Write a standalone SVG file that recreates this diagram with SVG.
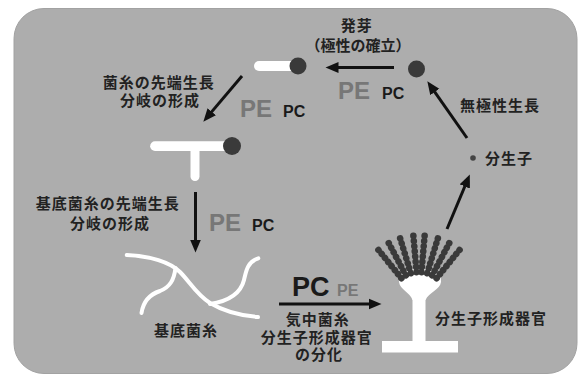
<svg xmlns="http://www.w3.org/2000/svg" xmlns:xlink="http://www.w3.org/1999/xlink" width="579" height="376" viewBox="0 0 579 376">
  <style>
    .jp { font-family: "Noto Sans CJK JP", "Noto Sans", sans-serif; font-weight: bold; font-size: 15px; fill: #222; text-anchor: middle; letter-spacing: 1px; }
    .pe { font-family: "Liberation Sans", Arial, sans-serif; font-weight: bold; fill: #777; }
    .pc { font-family: "Liberation Sans", Arial, sans-serif; font-weight: bold; fill: #1a1a1a; }
    .arrow { stroke: #111; stroke-width: 3; fill: none; marker-end: url(#head); }
    .hypha { stroke: #fff; stroke-width: 4; fill: none; stroke-linecap: round; }
    .cell { fill: #3a3a3a; }
    .spore { fill: #3a3a3a; }
  </style>
  <defs>
    <marker id="head" markerUnits="userSpaceOnUse" markerWidth="14" markerHeight="12" viewBox="0 -6 14 12" refX="0.5" refY="0" orient="auto">
      <path d="M0,-5.5 L13,0 L0,5.5 Z" fill="#111"/>
    </marker>
    <!-- one spore chain, upright above the vesicle centre (419,300) -->
    <g id="chain">
      <circle class="spore" cx="419" cy="272" r="3.3"/>
      <circle class="spore" cx="419" cy="266.8" r="3.3"/>
      <circle class="spore" cx="419" cy="261.6" r="3.3"/>
      <circle class="spore" cx="419" cy="256.4" r="3.3"/>
      <circle class="spore" cx="419" cy="251.2" r="3.3"/>
      <circle class="spore" cx="419" cy="246" r="3.3"/>
      <circle class="spore" cx="419" cy="240.8" r="3.3"/>
      <circle class="spore" cx="419" cy="235.6" r="3.3"/>
    </g>
  </defs>

  <rect x="0" y="0" width="579" height="376" fill="#fff"/>
  <rect x="14" y="8.5" width="563" height="365" rx="30" fill="#adadad" stroke="#a2a2a2" stroke-width="1"/>

  <!-- germinating spore -->
  <g id="germ-tube">
    <path d="M259,61 H298 V71 H259 A5,5 0 0 1 259,61 Z" fill="#fff"/>
    <circle class="cell" cx="298" cy="66" r="8.5"/>
  </g>

  <!-- free spore -->
  <g id="spore-polar">
    <circle class="cell" cx="416.5" cy="69" r="8.5"/>
  </g>

  <!-- branching hypha -->
  <g id="branch">
    <path d="M155,141.3 H232 V151 H155 A4.85,4.85 0 0 1 155,141.3 Z" fill="#fff"/>
    <path d="M190.5,146 H199.5 V176.5 A4.5,4.5 0 0 1 190.5,176.5 Z" fill="#fff"/>
    <circle class="cell" cx="232" cy="146" r="9"/>
  </g>

  <!-- substrate mycelium -->
  <g id="substrate-mycelium">
    <path class="hypha" d="M126.7,255 C150,256 170,262 180,272 C190,282 196,294 210,303 C225,312 245,316 258,317"/>
    <path class="hypha" d="M175.5,268 C174,280 170,287 160,291 C148,295 143,303 141.5,313"/>
    <path class="hypha" d="M258.3,258.3 C247,262 246,272 244,280 C241,292 230,301 210,304"/>
  </g>

  <!-- conidiophore -->
  <g id="conidiophore">
    <rect x="382" y="341" width="76" height="11.5" fill="#fff"/>
    <rect x="412.5" y="292" width="13" height="50" fill="#fff"/>
    <path d="M412.5,300 C410,292 400,290 399,282 C398,272 408,267 420,267 C432,267 442,272 441,282 C440,290 429,292 425.5,300 Z" fill="#fff"/>
    <use xlink:href="#chain" transform="rotate(-39 419 300)"/>
    <use xlink:href="#chain" transform="rotate(-28 419 300)"/>
    <use xlink:href="#chain" transform="rotate(-17 419 300)"/>
    <use xlink:href="#chain" transform="rotate(-5 419 300)"/>
    <use xlink:href="#chain" transform="rotate(5 419 300)"/>
    <use xlink:href="#chain" transform="rotate(17 419 300)"/>
    <use xlink:href="#chain" transform="rotate(28 419 300)"/>
    <use xlink:href="#chain" transform="rotate(39 419 300)"/>
  </g>

  <!-- single conidium -->
  <g id="conidium">
    <circle cx="473" cy="158" r="2.8" fill="#444"/>
  </g>

  <!-- life-cycle arrows -->
  <g id="connectors">
    <line class="arrow" x1="394" y1="67.5" x2="338" y2="67.5"/>
    <line class="arrow" x1="242" y1="76" x2="211.4" y2="112.1"/>
    <line class="arrow" x1="195.5" y1="192" x2="195.5" y2="240"/>
    <line class="arrow" x1="279" y1="304" x2="369" y2="304"/>
    <line class="arrow" x1="447" y1="229" x2="465" y2="186"/>
    <line class="arrow" x1="467" y1="138" x2="434.5" y2="91.6"/>
  </g>

  <!-- stage labels -->
  <g id="labels">
    <text class="jp" y="30.5">
      <tspan x="359">発芽</tspan>
      <tspan x="358" y="50.5" style="letter-spacing:0">（極性の確立）</tspan>
    </text>
    <text class="jp" y="87.5">
      <tspan x="161">菌糸の先端生長</tspan>
      <tspan x="160" y="105.5">分岐の形成</tspan>
    </text>
    <text class="jp" x="500" y="110.5">無極性生長</text>
    <text class="jp" x="509" y="163.5">分生子</text>
    <text class="jp" y="208.5">
      <tspan x="110">基底菌糸の先端生長</tspan>
      <tspan x="110" y="228.5">分岐の形成</tspan>
    </text>
    <text class="jp" x="491" y="323.5">分生子形成器官</text>
    <text class="jp" x="186" y="335.5">基底菌糸</text>
    <text class="jp" y="324.5">
      <tspan x="320">気中菌糸</tspan>
      <tspan x="319" y="342.5">分生子形成器官</tspan>
      <tspan x="319" y="359.5">の分化</tspan>
    </text>
  </g>

  <!-- PE / PC emphasis -->
  <g id="pe-pc">
    <text class="pe" x="338" y="99" font-size="24">PE</text>
    <text class="pc" x="382" y="99" font-size="16">PC</text>
    <text class="pe" x="240" y="117" font-size="24">PE</text>
    <text class="pc" x="283" y="117" font-size="16">PC</text>
    <text class="pe" x="209" y="230.5" font-size="24">PE</text>
    <text class="pc" x="252" y="230.5" font-size="16">PC</text>
    <text class="pc" x="292" y="296" font-size="27">PC</text>
    <text class="pe" x="337" y="296" font-size="16">PE</text>
  </g>
</svg>
